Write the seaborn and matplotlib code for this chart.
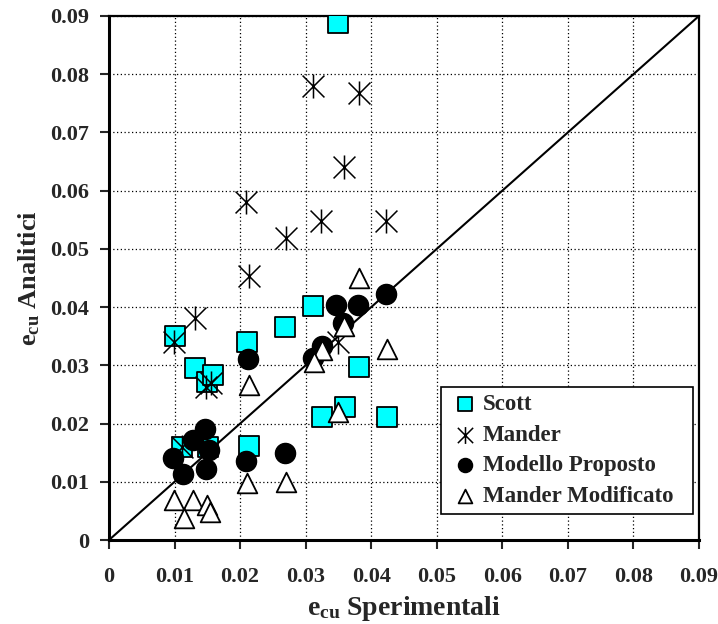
import matplotlib
matplotlib.use("Agg")
import matplotlib.pyplot as plt
from matplotlib.path import Path
import seaborn as sns

# data
scott_x = [0.0101, 0.0131, 0.0149, 0.0159, 0.0210, 0.0268, 0.0311, 0.0350, 0.0381,
           0.0325, 0.0360, 0.0424, 0.0111, 0.0151, 0.0213]
scott_y = [0.0350, 0.0295, 0.0271, 0.0283, 0.0340, 0.0366, 0.0402, 0.0888, 0.0297,
           0.0211, 0.0228, 0.0211, 0.0160, 0.0160, 0.0161]

mander_x = [0.0311, 0.0381, 0.0358, 0.0209, 0.0323, 0.0270, 0.0422, 0.0213, 0.0131,
            0.0099, 0.0148, 0.0155, 0.0349, 0.0111]
mander_y = [0.0780, 0.0768, 0.0641, 0.0580, 0.0548, 0.0519, 0.0548, 0.0453, 0.0381,
            0.0340, 0.0263, 0.0270, 0.0340, 0.0160]

modello_x = [0.0347, 0.0380, 0.0422, 0.0357, 0.0325, 0.0311, 0.0212, 0.0146, 0.0128,
             0.0152, 0.0098, 0.0113, 0.0148, 0.0209, 0.0268]
modello_y = [0.0404, 0.0404, 0.0423, 0.0373, 0.0333, 0.0313, 0.0311, 0.0190, 0.0172,
             0.0155, 0.0141, 0.0113, 0.0122, 0.0136, 0.0149]

modificato_x = [0.0381, 0.0358, 0.0325, 0.0312, 0.0424, 0.0213, 0.0350, 0.0210, 0.0270,
                0.0099, 0.0128, 0.0149, 0.0154, 0.0114]
modificato_y = [0.0450, 0.0368, 0.0326, 0.0306, 0.0328, 0.0266, 0.0220, 0.0098, 0.0100,
                0.0069, 0.0069, 0.0060, 0.0048, 0.0038]

ticks = [0, 0.01, 0.02, 0.03, 0.04, 0.05, 0.06, 0.07, 0.08, 0.09]
tick_labels = ["0", "0.01", "0.02", "0.03", "0.04", "0.05", "0.06", "0.07", "0.08", "0.09"]

sns.set_style("white")
plt.rcParams["font.family"] = ["Liberation Serif", "DejaVu Serif"]
plt.rcParams["font.weight"] = "bold"
plt.rcParams["mathtext.fontset"] = "custom"
plt.rcParams["mathtext.rm"] = "Liberation Serif:bold"
plt.rcParams["mathtext.bf"] = "Liberation Serif:bold"
plt.rcParams["mathtext.it"] = "Liberation Serif:bold"

# asterisk marker: X plus a vertical stroke
star = Path([(-1, -1), (1, 1), (-1, 1), (1, -1), (0, -1.1), (0, 1.1)],
            [Path.MOVETO, Path.LINETO, Path.MOVETO, Path.LINETO, Path.MOVETO, Path.LINETO])

fig = plt.figure(figsize=(7.18, 6.24), dpi=100)
ax = fig.add_axes([0.1518, 0.1346, 0.8217, 0.8398])

# 1:1 line
ax.plot([0, 0.09], [0, 0.09], color="black", lw=1.5, zorder=2)

sns.scatterplot(x=scott_x, y=scott_y, marker="s", s=200, color="#00FFFF",
                edgecolor="black", linewidth=1.3, label="Scott", ax=ax, zorder=3)
sns.scatterplot(x=mander_x, y=mander_y, marker=star, s=300, color="black",
                edgecolor="black", linewidth=1.1, label="Mander", ax=ax, zorder=4)
sns.scatterplot(x=modello_x, y=modello_y, marker="o", s=210, color="black",
                edgecolor="black", linewidth=1, label="Modello Proposto", ax=ax, zorder=5)
sns.scatterplot(x=modificato_x, y=modificato_y, marker="^", s=200, color="white",
                edgecolor="black", linewidth=1.3, label="Mander Modificato", ax=ax, zorder=6)

ax.set_xlim(0, 0.09)
ax.set_ylim(0, 0.09)
ax.set_xticks(ticks)
ax.set_xticklabels(tick_labels)
ax.set_yticks(ticks)
ax.set_yticklabels(tick_labels)
ax.tick_params(axis="both", direction="out", length=6.5, width=1.5, labelsize=16,
               left=True, bottom=True)
ax.tick_params(axis="x", pad=13)
ax.tick_params(axis="y", pad=8)
for lab in ax.get_xticklabels() + ax.get_yticklabels():
    lab.set_fontweight("bold")

ax.grid(True, color="black", linestyle=(0, (1, 2)), linewidth=0.9)
ax.set_axisbelow(True)
for side in ["left", "bottom"]:
    ax.spines[side].set_linewidth(2.2)
for side in ["top", "right"]:
    ax.spines[side].set_linewidth(1.6)
for sp in ax.spines.values():
    sp.set_color("black")

ax.set_xlabel(r"$\mathbf{e}_{\mathbf{cu}}$ Sperimentali", fontsize=20, fontweight="bold")
ax.set_ylabel(r"$\mathbf{e}_{\mathbf{cu}}$ Analitici", fontsize=19, fontweight="bold")
ax.xaxis.set_label_coords(0.5, -0.103)
ax.yaxis.set_label_coords(-0.113, 0.5)

leg = ax.legend(loc="lower left", bbox_to_anchor=(0.5627, 0.0496, 0.4271, 0.2366),
                mode="expand", frameon=True, fancybox=False, edgecolor="black",
                framealpha=1, fontsize=16.5, markerscale=0.7, handletextpad=0.0,
                labelspacing=0.41, borderpad=0.32, handlelength=1.5, borderaxespad=0)
leg.get_frame().set_linewidth(1.2)
for t in leg.get_texts():
    t.set_fontweight("bold")

fig.savefig("out.png", dpi=100)
